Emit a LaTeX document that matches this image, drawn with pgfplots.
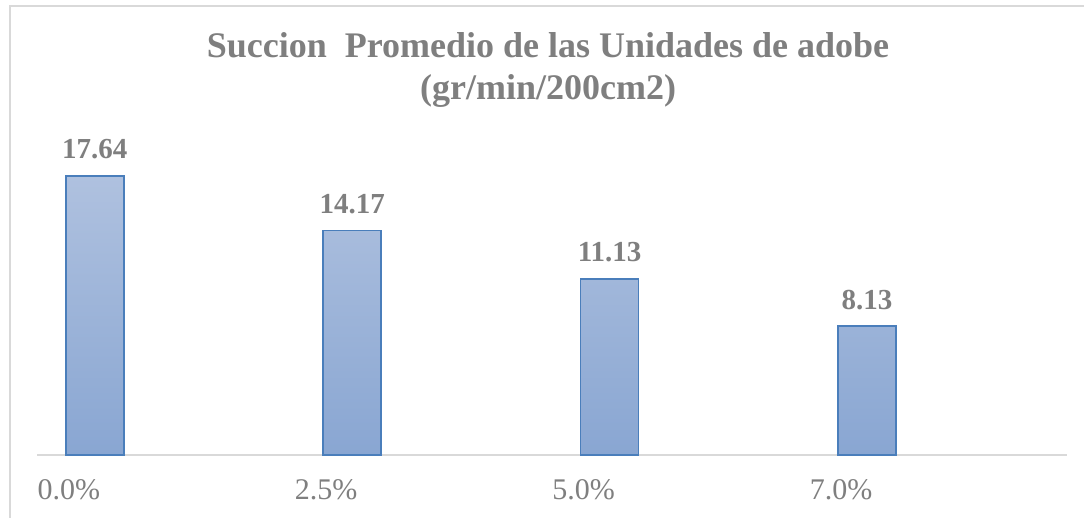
\documentclass[border=0pt]{standalone}
\usepackage{pgfplots}
\pgfplotsset{compat=1.18}
\usepackage{fontspec}
\setmainfont{Liberation Serif}

\definecolor{txtgray}{HTML}{7F7F7F}
\definecolor{linegray}{HTML}{D9D9D9}
\definecolor{bartop}{HTML}{AFC1DF}
\definecolor{barbot}{HTML}{89A6D2}
\definecolor{baredge}{HTML}{4A7EBB}

\begin{document}
\begin{tikzpicture}
  % page is 1084 x 518 (1 px = 1 pt)
  \useasboundingbox (0,0) rectangle (1084pt,518pt);
  \fill[white] (0,0) rectangle (1084pt,518pt);
  \draw[linegray, line width=1.2pt] (10pt,-20pt) -- (10pt,512pt) -- (1110pt,512pt);

  \node[anchor=base, text=txtgray, font=\fontsize{36}{40}\selectfont\bfseries]
    at (548pt,460pt) {Succion\ \ Promedio de las Unidades de adobe};
  \node[anchor=base, text=txtgray, font=\fontsize{36}{40}\selectfont\bfseries]
    at (548pt,418pt) {(gr/min/200cm2)};

  \begin{axis}[
      at={(37pt,63pt)}, anchor=south west,
      scale only axis,
      width=1030pt, height=455pt,
      xmin=37, xmax=1067,
      ymin=0, ymax=28.74,
      axis x line=bottom,
      axis y line=none,
      x axis line style={draw=linegray, line width=1.5pt, -},
      ytick=\empty,
      xtick={68.8,326.2,583.6,841},
      xticklabels={0.0\%,2.5\%,5.0\%,7.0\%},
      major tick length=0pt,
      xticklabel style={anchor=base, yshift=-45pt, text=txtgray,
        font=\fontsize{30}{34}\selectfont},
      ybar,
      bar width=58pt,
      /pgf/number format/assume math mode=true,
      nodes near coords={\pgfmathprintnumber[fixed,precision=2,fixed zerofill]{\pgfplotspointmeta}},
      every node near coord/.append style={anchor=base, yshift=17pt,
        text=txtgray, font=\fontsize{29}{33}\selectfont\bfseries},
      clip=false,
    ]
    \addplot[draw=baredge, line width=1.6pt, top color=bartop, bottom color=barbot]
      coordinates {(94.8,17.64) (352.2,14.17) (609.6,11.13) (867,8.13)};
  \end{axis}
\end{tikzpicture}
\end{document}
